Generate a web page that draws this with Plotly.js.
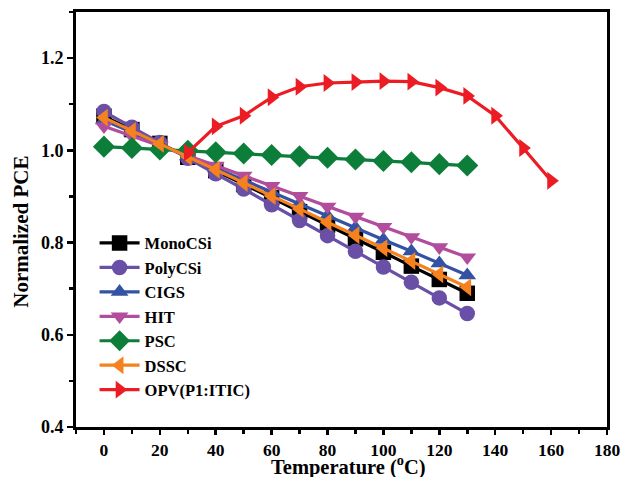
<!DOCTYPE html>
<html>
<head>
<meta charset="utf-8">
<script src="https://cdn.plot.ly/plotly-3.0.1.min.js"></script>
<style>html,body{margin:0;padding:0;background:#fff;}#chart{width:622px;height:477px;}</style>
</head>
<body>
<div id="chart"></div>
<script>
var tempA = [0,10,20,30,40,50,60,70,80,90,100,110,120,130];
var tempOPV = [30,40,50,60,70,80,90,100,110,120,130,140,150,160];

var monoCSi = [1.074,1.045,1.015,0.985,0.956,0.926,0.897,0.867,0.838,0.808,0.779,0.749,0.720,0.690];
var polyCSi = [1.084,1.050,1.017,0.983,0.949,0.916,0.882,0.848,0.815,0.781,0.747,0.714,0.680,0.646];
var cigs    = [1.065,1.039,1.013,0.987,0.961,0.935,0.910,0.884,0.858,0.832,0.806,0.781,0.755,0.729];
var hit     = [1.052,1.031,1.010,0.989,0.967,0.945,0.923,0.901,0.878,0.856,0.834,0.812,0.790,0.768];
var psc     = [1.008,1.005,1.002,0.999,0.996,0.993,0.990,0.987,0.984,0.980,0.977,0.974,0.970,0.967];
var dssc    = [1.071,1.042,1.014,0.986,0.958,0.929,0.901,0.873,0.844,0.816,0.788,0.760,0.731,0.703];
var opv     = [0.995,1.052,1.075,1.115,1.138,1.146,1.148,1.150,1.149,1.136,1.118,1.075,1.005,0.934];

var names = ["MonoCSi","PolyCSi","CIGS","HIT","PSC","DSSC","OPV(P1:ITIC)"];
var colors = ["#000000","#6a4fa6","#3452a4","#b24d9e","#0d7d3a","#f5821f","#ec1c24"];
var symbols = ["square","circle","triangle-up","triangle-down","diamond","triangle-left","triangle-right"];
var ys = [monoCSi, polyCSi, cigs, hit, psc, dssc, opv];
var xs = [tempA, tempA, tempA, tempA, tempA, tempA, tempOPV];

var xTickVals = [0,20,40,60,80,100,120,140,160,180];
var xTickText = ["0","20","40","60","80","100","120","140","160","180"];
var yTickVals = [0.4,0.6,0.8,1.0,1.2];
var yTickText = ["0.4","0.6","0.8","1.0","1.2"];
var xTitle = "Temperature (<sup>o</sup>C)";
var yTitle = "Normalized PCE";
function b(s){ return "<b>" + s + "</b>"; }

var traces = [];
for (var i = 0; i < names.length; i++) {
  traces.push({
    x: xs[i], y: ys[i], name: b(names[i]), type: "scatter", mode: "lines+markers",
    line: {color: colors[i], width: 3.2},
    marker: {symbol: symbols[i], color: colors[i], size: i === 4 ? 17 : 15.5, line: {width: 0}}
  });
}
var fam = "Liberation Serif, Times New Roman, serif";
var layout = {
  width: 622, height: 477,
  margin: {l: 76, r: 15, t: 12, b: 50},
  paper_bgcolor: "#fff", plot_bgcolor: "#fff",
  font: {family: fam, color: "#000", size: 17},
  showlegend: true,
  legend: {x: 0.035, y: 0.485, xanchor: "left", yanchor: "top", bgcolor: "rgba(0,0,0,0)",
           font: {family: fam, size: 16.5, color: "#000"}, tracegroupgap: 0, itemwidth: 40},
  xaxis: {
    range: [-10, 180], tickvals: xTickVals, ticktext: xTickText.map(b),
    ticks: "outside", ticklen: 5, tickwidth: 2.5, tickcolor: "#000",
    minor: {dtick: 10, tick0: 0, ticks: "outside", ticklen: 4, tickwidth: 2.5, tickcolor: "#000"},
    showline: true, linewidth: 3, linecolor: "#000", mirror: true, showgrid: false, zeroline: false,
    tickfont: {family: fam, size: 17.5, color: "#000"}
  },
  yaxis: {
    range: [0.4, 1.3], tickvals: yTickVals, ticktext: yTickText.map(b),
    ticks: "outside", ticklen: 6, tickwidth: 2.5, tickcolor: "#000",
    minor: {dtick: 0.1, tick0: 0.4, ticks: "outside", ticklen: 4, tickwidth: 2.5, tickcolor: "#000"},
    showline: true, linewidth: 3, linecolor: "#000", mirror: true, showgrid: false, zeroline: false,
    tickfont: {family: fam, size: 18, color: "#000"}
  },
  annotations: [{
    text: b(xTitle), xref: "paper", yref: "paper", x: 0.514, y: -0.093,
    xanchor: "center", yanchor: "middle", showarrow: false,
    font: {family: fam, size: 20.5, color: "#000"}
  }, {
    text: b(yTitle), xref: "paper", yref: "paper", x: -0.105, y: 0.471,
    xanchor: "center", yanchor: "middle", showarrow: false, textangle: -90,
    font: {family: fam, size: 21, color: "#000"}
  }]
};
Plotly.newPlot("chart", traces, layout, {displayModeBar: false, staticPlot: true});
</script>
</body>
</html>
